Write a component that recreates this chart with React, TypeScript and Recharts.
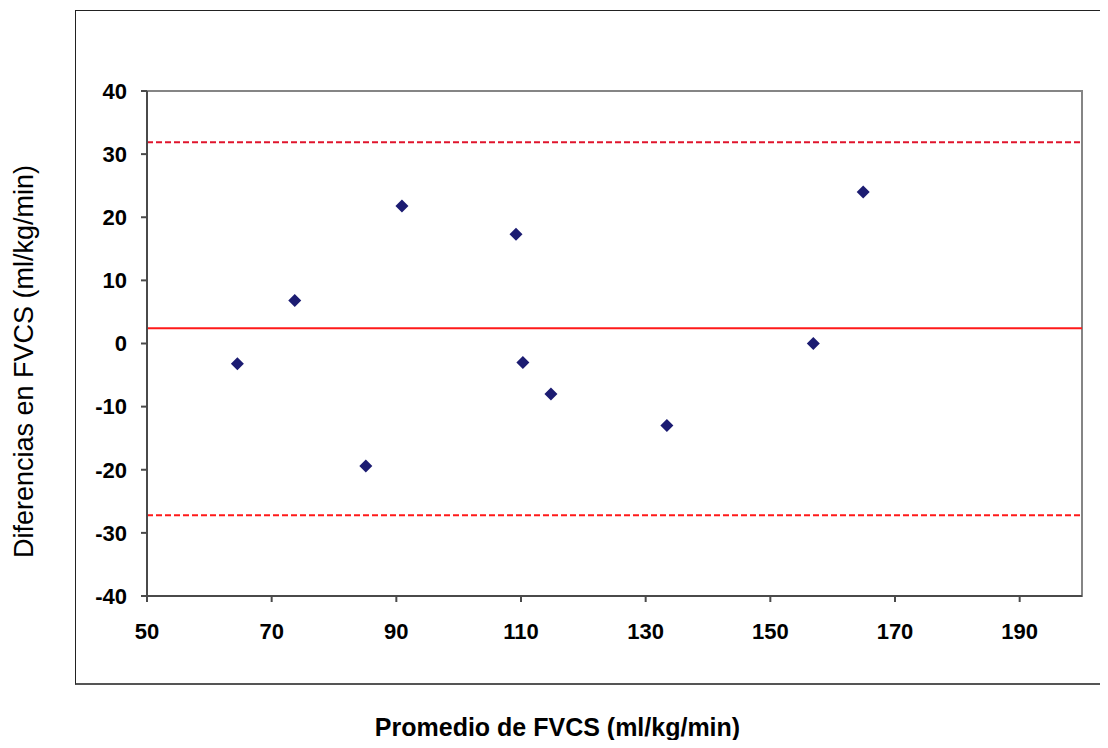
import React from 'react';
import {
  ScatterChart,
  Scatter,
  XAxis,
  YAxis,
  ReferenceLine,
  ReferenceArea,
  Label,
} from 'recharts';

// Bland-Altman: promedio vs diferencia
const promedio = [64.5, 73.7, 85.1, 90.9, 109.2, 110.3, 114.8, 133.4, 156.9, 164.9];
const diferencia = [-3.2, 6.8, -19.4, 21.8, 17.3, -3.0, -8.0, -13.0, 0.0, 24.0];

const mediaDif = 2.4;
const limiteSup = 31.9;
const limiteInf = -27.2;

const xTicks = [50, 70, 90, 110, 130, 150, 170, 190];
const yTicks = [-40, -30, -20, -10, 0, 10, 20, 30, 40];

const puntos = promedio.map((x, i) => ({ x, y: diferencia[i] }));

const FONT = '"Liberation Sans", Arial, Helvetica, sans-serif';

const Rombo = (props: any) => {
  const { cx, cy } = props;
  const r = 6.5;
  return (
    <path
      d={`M${cx},${cy - r}L${cx + r},${cy}L${cx},${cy + r}L${cx - r},${cy}Z`}
      fill="#1c1c72"
    />
  );
};

export default function App() {
  const tickStyle = { fontFamily: FONT, fontSize: 22, fontWeight: 700, fill: '#000' };

  return (
    <div style={{ position: 'relative', width: 1108, height: 748, margin: -8, background: '#fff', overflow: 'hidden' }}>
      <div
        style={{
          position: 'absolute',
          left: 75,
          top: 10,
          width: 1100,
          height: 672,
          borderLeft: '1.5px solid #222',
          borderTop: '1.5px solid #222',
          borderBottom: '2px solid #555',
        }}
      />
      <ScatterChart
        width={1108}
        height={748}
        margin={{ top: 91, right: 26, bottom: 92, left: 87 }}
        style={{ position: 'absolute', left: 0, top: 0 }}
      >
        <ReferenceArea
          x1={50}
          x2={200}
          y1={-40}
          y2={40}
          fill="none"
          stroke="#858585"
          strokeWidth={2}
          ifOverflow="visible"
        />
        <XAxis
          type="number"
          dataKey="x"
          domain={[50, 200]}
          ticks={xTicks}
          interval={0}
          height={60}
          stroke="#4a4a4a"
          strokeWidth={2}
          tickSize={6}
          tickMargin={21}
          tick={tickStyle}
          allowDataOverflow
        >
          <Label
            value="Promedio de FVCS (ml/kg/min)"
            position="bottom"
            offset={62}
            dx={-57}
            style={{ fontFamily: FONT, fontSize: 25, fontWeight: 700, fill: '#000' }}
          />
        </XAxis>
        <YAxis
          type="number"
          dataKey="y"
          domain={[-40, 40]}
          ticks={yTicks}
          interval={0}
          width={60}
          stroke="#4a4a4a"
          strokeWidth={2}
          tickSize={6}
          tickMargin={14}
          tick={tickStyle}
          allowDataOverflow
        >
          <Label
            value="Diferencias en FVCS (ml/kg/min)"
            angle={-90}
            position="center"
            dx={-94}
            dy={18}
            style={{ fontFamily: FONT, fontSize: 27, fill: '#000' }}
          />
        </YAxis>
        <ReferenceLine y={limiteSup} stroke="#e0142c" strokeWidth={2} strokeDasharray="6 3" />
        <ReferenceLine y={mediaDif} stroke="#ff1a1a" strokeWidth={2} />
        <ReferenceLine y={limiteInf} stroke="#ff1a1a" strokeWidth={2} strokeDasharray="6 3" />
        <Scatter data={puntos} shape={<Rombo />} isAnimationActive={false} />
      </ScatterChart>
    </div>
  );
}
